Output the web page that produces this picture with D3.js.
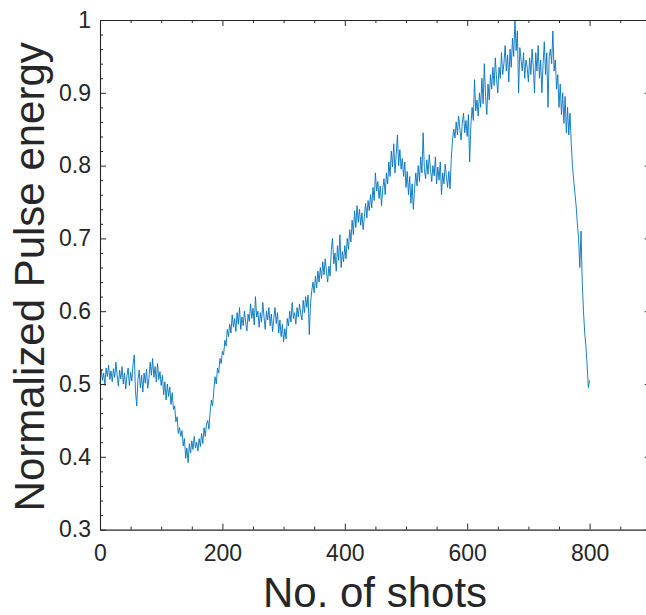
<!DOCTYPE html>
<html>
<head>
<meta charset="utf-8">
<script src="https://cdn.jsdelivr.net/npm/d3@7"></script>
<style>
  html, body { margin: 0; padding: 0; background: #fff; }
  svg { display: block; }
  text { font-family: "Liberation Sans", Arial, Helvetica, sans-serif; fill: #262626; }
</style>
</head>
<body>
<svg id="chart" width="646" height="615"></svg>
<script>
// ---- Data ----
const shotStep = 2;          // one sample every 2 shots, starting at shot 0
const pulseEnergy = [
  0.500, 0.520, 0.505, 0.515, 0.498, 0.522, 0.510, 0.526, 0.506, 0.518,
  0.503, 0.521, 0.509, 0.530, 0.512, 0.497, 0.519, 0.507, 0.524, 0.500,
  0.515, 0.493, 0.511, 0.522, 0.498, 0.516, 0.504, 0.527, 0.540, 0.490,
  0.470, 0.506, 0.519, 0.495, 0.512, 0.489, 0.515, 0.501, 0.520, 0.494,
  0.508, 0.530, 0.512, 0.535, 0.509, 0.524, 0.503, 0.528, 0.506, 0.517,
  0.498, 0.512, 0.485, 0.503, 0.478, 0.500, 0.483, 0.496, 0.472, 0.488,
  0.465, 0.470, 0.448, 0.455, 0.432, 0.440, 0.428, 0.436, 0.415, 0.425,
  0.398, 0.412, 0.392, 0.418, 0.405, 0.422, 0.410, 0.428, 0.412, 0.420,
  0.408, 0.425, 0.414, 0.432, 0.418, 0.440, 0.428, 0.445, 0.450, 0.438,
  0.462, 0.478, 0.470, 0.492, 0.510, 0.500, 0.522, 0.515, 0.535, 0.528,
  0.545, 0.540, 0.560, 0.552, 0.575, 0.565, 0.582, 0.570, 0.595, 0.578,
  0.590, 0.572, 0.598, 0.582, 0.605, 0.575, 0.592, 0.580, 0.600, 0.584,
  0.573, 0.596, 0.586, 0.610, 0.590, 0.604, 0.581, 0.620, 0.592, 0.600,
  0.578, 0.598, 0.585, 0.612, 0.592, 0.575, 0.600, 0.588, 0.605, 0.580,
  0.596, 0.572, 0.590, 0.605, 0.583, 0.598, 0.570, 0.588, 0.565, 0.582,
  0.558, 0.576, 0.562, 0.590, 0.580, 0.600, 0.585, 0.612, 0.590, 0.598,
  0.582, 0.605, 0.592, 0.610, 0.596, 0.588, 0.615, 0.598, 0.620, 0.605,
  0.622, 0.568, 0.610, 0.628, 0.640, 0.625, 0.648, 0.632, 0.655, 0.640,
  0.660, 0.645, 0.668, 0.650, 0.672, 0.655, 0.640, 0.662, 0.648, 0.685,
  0.700, 0.665, 0.680, 0.655, 0.690, 0.670, 0.705, 0.660, 0.682, 0.668,
  0.690, 0.672, 0.700, 0.685, 0.712, 0.695, 0.725, 0.705, 0.738, 0.715,
  0.745, 0.722, 0.740, 0.718, 0.735, 0.712, 0.730, 0.748, 0.728, 0.752,
  0.738, 0.760, 0.742, 0.770, 0.752, 0.790, 0.765, 0.778, 0.755, 0.772,
  0.745, 0.768, 0.782, 0.760, 0.790, 0.775, 0.805, 0.785, 0.820, 0.798,
  0.830, 0.790, 0.815, 0.842, 0.800, 0.822, 0.795, 0.810, 0.785, 0.805,
  0.770, 0.792, 0.760, 0.785, 0.748, 0.775, 0.740, 0.768, 0.790, 0.772,
  0.800, 0.778, 0.812, 0.790, 0.845, 0.795, 0.782, 0.808, 0.788, 0.815,
  0.795, 0.778, 0.800, 0.786, 0.812, 0.775, 0.798, 0.780, 0.805, 0.760,
  0.790, 0.775, 0.802, 0.785, 0.770, 0.792, 0.768, 0.810, 0.835, 0.850,
  0.838, 0.860, 0.842, 0.868, 0.850, 0.835, 0.858, 0.872, 0.845, 0.862,
  0.840, 0.870, 0.805, 0.855, 0.880, 0.862, 0.918, 0.875, 0.890, 0.868,
  0.900, 0.880, 0.920, 0.885, 0.940, 0.895, 0.870, 0.912, 0.890, 0.925,
  0.905, 0.935, 0.910, 0.948, 0.918, 0.900, 0.935, 0.920, 0.955, 0.925,
  0.940, 0.965, 0.930, 0.952, 0.915, 0.960, 0.935, 0.975, 0.950, 1.000,
  0.958, 0.985, 0.900, 0.962, 0.945, 0.930, 0.955, 0.920, 0.945, 0.935,
  0.915, 0.948, 0.925, 0.960, 0.935, 0.900, 0.955, 0.930, 0.965, 0.920,
  0.945, 0.900, 0.940, 0.970, 0.925, 0.955, 0.880, 0.950, 0.960, 0.940,
  0.985, 0.930, 0.945, 0.905, 0.925, 0.880, 0.912, 0.870, 0.900, 0.858,
  0.895, 0.845, 0.880, 0.842, 0.872, 0.830, 0.800, 0.780, 0.762, 0.745,
  0.720, 0.700, 0.660, 0.710, 0.640, 0.600, 0.570, 0.552, 0.525, 0.495,
  0.505
];
const xTicks = [0, 200, 400, 600, 800];
const yTicks = [0.3, 0.4, 0.5, 0.6, 0.7, 0.8, 0.9, 1];
const xDomain = [0, 900];
const yDomain = [0.3, 1];
const xLabel = "No. of shots";
const yLabel = "Normalized Pulse energy";

// ---- Layout ----
const mLeft = 100, mRight = 650.8, mTop = 20, mBottom = 529.6;
const axisColor = "#262626";
const lineColor = "#0072BD";

const svg = d3.select("#chart");
const x = d3.scaleLinear().domain(xDomain).range([mLeft, mRight]);
const y = d3.scaleLinear().domain(yDomain).range([mBottom, mTop]);

const points = pulseEnergy.map((v, i) => ({ shot: i * shotStep, v }));

// data line
svg.append("path")
  .datum(points)
  .attr("fill", "none")
  .attr("stroke", lineColor)
  .attr("stroke-width", 0.9)
  .attr("stroke-linejoin", "round")
  .attr("d", d3.line().x(d => x(d.shot)).y(d => y(d.v)));

// minor tick values
const xMinor = d3.range(xDomain[0], xDomain[1] + 1, 50).filter(v => !xTicks.includes(v));
const yMinor = d3.range(0, 36).map(i => +(0.3 + i * 0.02).toFixed(2)).filter(v => v <= 1 && !yTicks.some(t => Math.abs(t - v) < 1e-9));

function styleAxis(g) {
  g.selectAll(".domain").attr("stroke", axisColor).attr("stroke-width", 1.1);
  g.selectAll(".tick line").attr("stroke", axisColor).attr("stroke-width", 1);
  g.selectAll(".tick text")
    .style("font-family", '"Liberation Sans", Arial, sans-serif')
    .style("font-size", "23px")
    .attr("fill", axisColor);
}
function minorStyle(g) {
  g.select(".domain").remove();
  g.selectAll(".tick line").attr("stroke", axisColor);
}

// bottom axis (major, inward)
const gB = svg.append("g").attr("transform", `translate(0,${mBottom})`)
  .call(d3.axisBottom(x).tickValues(xTicks).tickFormat(d3.format("d")).tickSizeInner(-6).tickSizeOuter(0).tickPadding(15));
styleAxis(gB);
gB.selectAll(".tick text").attr("dy", "0.72em");
svg.append("g").attr("transform", `translate(0,${mBottom})`)
  .call(d3.axisBottom(x).tickValues(xMinor).tickFormat("").tickSizeInner(-3).tickSizeOuter(0))
  .call(minorStyle);

// top axis
const gT = svg.append("g").attr("transform", `translate(0,${mTop})`)
  .call(d3.axisTop(x).tickValues(xTicks).tickFormat("").tickSizeInner(-6).tickSizeOuter(0));
styleAxis(gT);
svg.append("g").attr("transform", `translate(0,${mTop})`)
  .call(d3.axisTop(x).tickValues(xMinor).tickFormat("").tickSizeInner(-3).tickSizeOuter(0))
  .call(minorStyle);

// left axis
const gL = svg.append("g").attr("transform", `translate(${mLeft},0)`)
  .call(d3.axisLeft(y).tickValues(yTicks).tickFormat(d => d === 1 ? "1" : d3.format(".1f")(d)).tickSizeInner(-6).tickSizeOuter(0).tickPadding(9));
styleAxis(gL);
svg.append("g").attr("transform", `translate(${mLeft},0)`)
  .call(d3.axisLeft(y).tickValues(yMinor).tickFormat("").tickSizeInner(-3).tickSizeOuter(0))
  .call(minorStyle);

// right axis
const gR = svg.append("g").attr("transform", `translate(${mRight},0)`)
  .call(d3.axisRight(y).tickValues(yTicks).tickFormat("").tickSizeInner(-6).tickSizeOuter(0));
styleAxis(gR);
svg.append("g").attr("transform", `translate(${mRight},0)`)
  .call(d3.axisRight(y).tickValues(yMinor).tickFormat("").tickSizeInner(-3).tickSizeOuter(0))
  .call(minorStyle);

// axis labels
svg.append("text")
  .attr("x", 375).attr("y", 607)
  .attr("text-anchor", "middle")
  .style("font-size", "42px")
  .text(xLabel);

svg.append("text")
  .attr("transform", `translate(44,${(mTop + mBottom) / 2 + 2}) rotate(-90)`)
  .attr("text-anchor", "middle")
  .style("font-size", "42px")
  .text(yLabel);
</script>
</body>
</html>
